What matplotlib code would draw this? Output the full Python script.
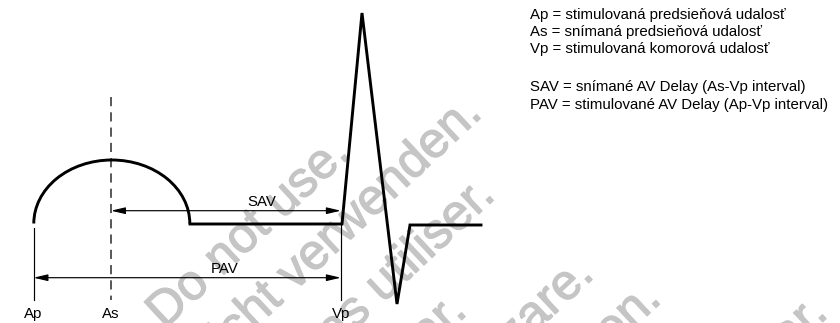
"""AV delay diagram (SAV / PAV) redrawn with matplotlib."""

import matplotlib

matplotlib.use("Agg")
import matplotlib.patheffects as pe
import matplotlib.pyplot as plt
from matplotlib.patches import Arc

plt.rcParams["font.family"] = ["Liberation Sans", "DejaVu Sans"]

# canvas is 840 x 323 px, data units are pixels (y grows downwards)
W, H = 840, 323

# atrial wave: half ellipse sitting on the baseline
p_wave_center = (111.8, 223.5)
p_wave_width = 156.0
p_wave_height = 127.0

# baseline + QRS complex after the P wave
wave_x = [190, 342, 362, 397, 410, 481]
wave_y = [224, 224, 13, 304, 225, 225]

# event markers
event_labels = ["Ap", "As", "Vp"]
event_x = [33.5, 111.0, 340.8]
marker_top = {"Ap": 228, "As": 97, "Vp": 224}
marker_bottom = 300

# intervals: (label, start, end, y, label_x)
intervals = [
    ("SAV", 111.0, 340.8, 210.7, 262),
    ("PAV", 33.5, 340.8, 277.7, 225),
]

legend_lines = [
    "Ap = stimulovaná predsieňová udalosť",
    "As = snímaná predsieňová udalosť",
    "Vp = stimulovaná komorová udalosť",
    "SAV = snímané AV Delay (As-Vp interval)",
    "PAV = stimulované AV Delay (Ap-Vp interval)",
]
legend_y = [18.5, 36, 53.5, 91, 108.5]

# grey "do not use" stamp across the drawing
stamp_text = [
    "Outdated version. Do not use.",
    "Version überholt. Nicht verwenden.",
    "Version obsolète. Ne pas utiliser.",
    "Versión obsoleta. No utilizar.",
    "Versione obsoleta. Non utilizzare.",
    "Verouderde versie. Niet gebruiken.",
    "Versão obsoleta. Não utilizar.",
]
stamp_end_x = [352, 484, 497, 469, 596, 663, 830]
stamp_end_y = [155, 115, 197, 313, 276, 301, 315]
stamp_color = "#c5c5c5"

fig = plt.figure(figsize=(W / 100, H / 100), dpi=100)
ax = fig.add_axes([0, 0, 1, 1])
ax.set_xlim(0, W)
ax.set_ylim(H, 0)
ax.axis("off")

for txt, x, y in zip(stamp_text, stamp_end_x, stamp_end_y):
    ax.text(x, y, txt, fontsize=36, color=stamp_color, rotation=43,
            rotation_mode="anchor", ha="right", va="baseline", zorder=0,
            path_effects=[pe.withStroke(linewidth=0.9, foreground=stamp_color)])

# waveform
ax.add_patch(Arc(p_wave_center, p_wave_width, p_wave_height, theta1=180, theta2=360,
                 lw=2.1, color="black", zorder=3))
ax.plot(wave_x, wave_y, color="black", lw=2.1, solid_joinstyle="miter", zorder=3)

# markers
for lab, x in zip(event_labels, event_x):
    if lab == "As":
        ax.plot([x, x], [marker_top[lab], marker_bottom], color="#2a2a2a", lw=1.1,
                ls=(0, (6.0, 4.0)), zorder=2)
    else:
        ax.plot([x, x], [marker_top[lab], marker_bottom], color="black", lw=0.85, zorder=2)
    ax.text(x, 318, lab, fontsize=10.8, ha="center", va="baseline")

# interval arrows
for lab, x0, x1, y, lx in intervals:
    ax.annotate("", xy=(x1, y), xytext=(x0, y),
                arrowprops=dict(arrowstyle="<|-|>,head_length=0.85,head_width=0.2",
                                mutation_scale=10, lw=0.85, color="black",
                                shrinkA=0, shrinkB=0), zorder=2)
    ax.text(lx, y - 5, lab, fontsize=10.8, ha="center", va="baseline")

for line, y in zip(legend_lines, legend_y):
    ax.text(530, y, line, fontsize=10.8, ha="left", va="baseline")

fig.savefig("out.png", dpi=100)
